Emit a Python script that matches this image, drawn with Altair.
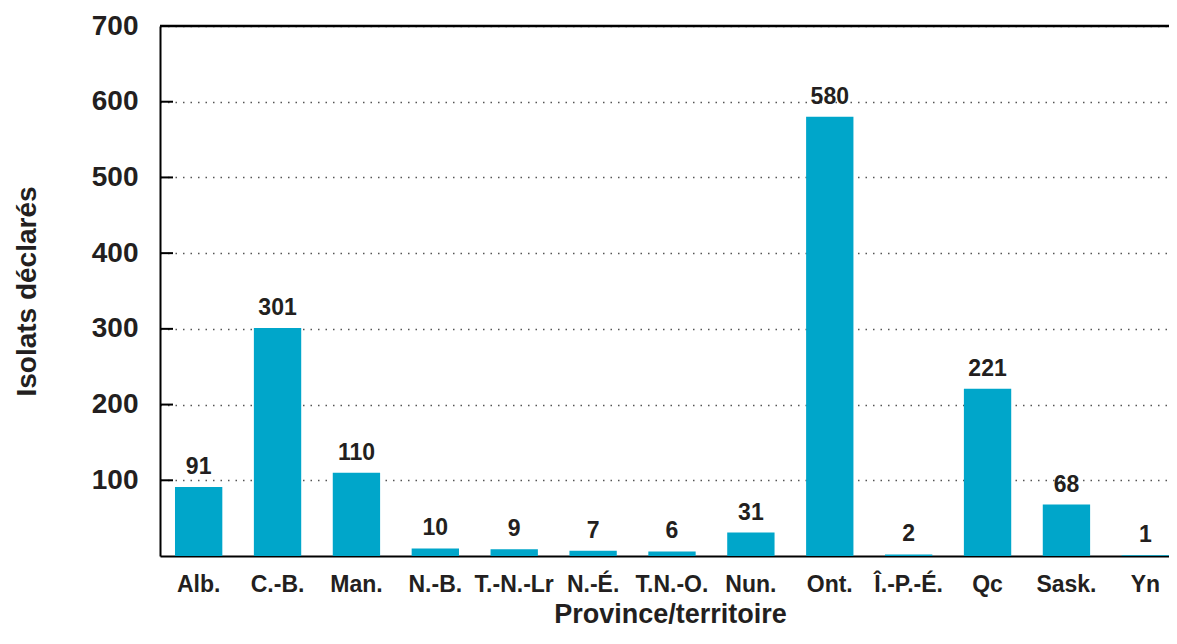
import altair as alt
import pandas as pd

categories = ["Alb.", "C.-B.", "Man.", "N.-B.", "T.-N.-Lr", "N.-É.", "T.N.-O.",
              "Nun.", "Ont.", "Î.-P.-É.", "Qc", "Sask.", "Yn"]
values = [91, 301, 110, 10, 9, 7, 6, 31, 580, 2, 221, 68, 1]
y_ticks = [100, 200, 300, 400, 500, 600, 700]
inner_ticks = [100, 200, 300, 400, 500, 600]
frame_top = [700]

FONT = "Liberation Sans"
TEXT = "#231f20"
BAR = "#00a6ca"

df = pd.DataFrame({"cat": categories, "val": values})
ticks_df = pd.DataFrame({"val": inner_ticks})
frame_df = pd.DataFrame({"val": frame_top})

W = 1009
H = 530

xscale = alt.Scale(domain=categories, paddingInner=0.4, paddingOuter=0.095, align=1)
yscale = alt.Scale(domain=[0, 700], nice=False, zero=True)

x_axis = alt.Axis(
    title="Province/territoire", labelAngle=0, ticks=False, tickSize=0,
    labelPadding=35, labelBaseline="alphabetic", labelFontSize=23, labelFont=FONT,
    labelFontWeight="bold", labelColor=TEXT, labelOverlap=False, labelLimit=200,
    domainColor="black", domainWidth=2, grid=False,
    titleFont=FONT, titleFontSize=27, titleFontWeight="bold", titleColor=TEXT,
    titleX=510, titleY=66, titleBaseline="alphabetic", titleAlign="center",
)
y_axis = alt.Axis(
    values=y_ticks, title="Isolats déclarés", grid=True, gridDash=[1.5, 6],
    gridColor="#555555", gridWidth=1.5, ticks=False, tickSize=0, labelPadding=22,
    labelFontSize=28, labelFont=FONT, labelFontWeight="bold", labelColor=TEXT,
    labelBaseline="middle", domainColor="black", domainWidth=2,
    titleFont=FONT, titleFontSize=28, titleFontWeight="bold", titleColor=TEXT,
    titleAngle=270, titleX=-125, titleY=265, titleBaseline="alphabetic", titleAlign="center",
)

bars = alt.Chart(df).mark_bar(color=BAR).encode(
    x=alt.X("cat:N", sort=categories, scale=xscale, axis=x_axis),
    y=alt.Y("val:Q", scale=yscale, axis=y_axis),
)

labels = alt.Chart(df).mark_text(
    dy=-13, baseline="alphabetic", align="center", fontSize=23, font=FONT,
    fontWeight="bold", color=TEXT,
).encode(
    x=alt.X("cat:N", sort=categories, scale=xscale, axis=x_axis),
    y=alt.Y("val:Q", scale=yscale, axis=y_axis),
    text=alt.Text("val:Q"),
)

inner = alt.Chart(ticks_df).mark_rule(color="black", strokeWidth=2).encode(
    y=alt.Y("val:Q", scale=yscale, axis=y_axis),
    x=alt.value(0), x2=alt.value(13),
)

frame = alt.Chart(frame_df).mark_rule(color="black", strokeWidth=2.5).encode(
    y=alt.Y("val:Q", scale=yscale, axis=y_axis),
    x=alt.value(0), x2=alt.value(W),
)

chart = alt.layer(bars, inner, frame, labels).properties(
    width=W, height=H,
    autosize=alt.AutoSizeParams(type="none"),
    padding={"left": 152, "top": 18, "right": 0, "bottom": 76},
).configure_view(stroke=None).configure(background="white")

chart.save("out.html", embed_options={"renderer": "svg", "actions": False})
